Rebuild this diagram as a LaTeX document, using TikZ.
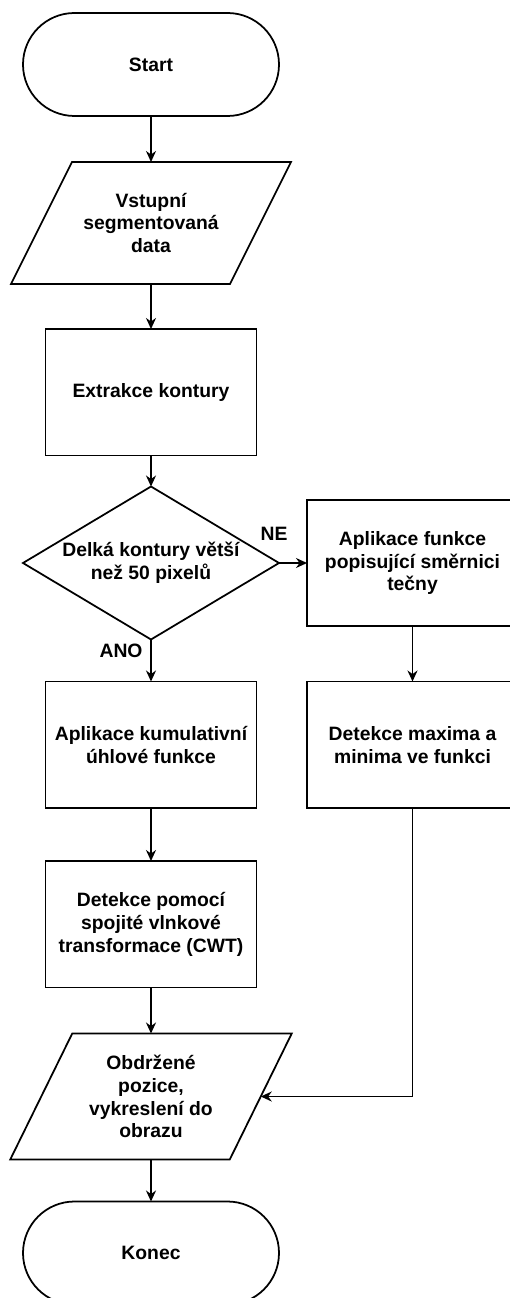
\documentclass[tikz,border=0pt]{standalone}
\usepackage{fontspec}
\setmainfont{Liberation Sans}
\usetikzlibrary{positioning}
\usetikzlibrary{shapes.geometric,calc,arrows.meta}

\begin{document}
\begin{tikzpicture}[every node/.style={outer sep=0pt},line width=1pt,
		box/.style={draw,line width=1pt,align=center,font=\fontsize{11}{13}\selectfont\bfseries,inner sep=0pt},
		term/.style={box,rounded corners=1.03cm,minimum width=5.12cm,minimum height=2.06cm},
		proc/.style={box,minimum width=4.22cm,minimum height=2.53cm},
		io/.style={box,draw=none,minimum width=4.38cm,minimum height=2.44cm},
		dec/.style={box,diamond,aspect=1.67,minimum width=5.12cm,minimum height=3.06cm},
		lbl/.style={font=\fontsize{11}{13}\selectfont\bfseries,inner sep=0pt},
		arr/.style={-{Stealth[length=2.2mm,width=2mm]}},
		]
		\useasboundingbox (0,0) rectangle (10.2,-25.96);

		\node[term] (start) at (3.02,-1.29) {Start};
		\node[io,below=0.92cm of start] (in) {Vstupní\\segmentovaná\\data};
		\draw ($(in.north west)+(0.61,0)$) -- ($(in.north east)+(0.61,0)$)
			-- ($(in.south east)-(0.61,0)$) -- ($(in.south west)-(0.61,0)$) -- cycle;
		\node[proc,below=0.9cm of in] (extr) {Extrakce kontury};
		\node[dec,below=0.62cm of extr] (dia) {Delká kontury větší\\než 50 pixelů};
		\node[proc,right=0.56cm of dia] (tan) {Aplikace funkce\\popisující směrnici\\tečny};
		\node[proc,below=0.84cm of dia] (cum) {Aplikace kumulativní\\úhlové funkce};
		\node[proc] (ext) at (tan |- cum) {Detekce maxima a\\minima ve funkci};
		\node[proc,below=1.06cm of cum] (cwt) {Detekce pomocí\\spojité vlnkové\\transformace (CWT)};
		\node[io,below=0.92cm of cwt,minimum height=2.52cm,minimum width=4.39cm] (out) {Obdržené\\pozice,\\vykreslení do\\obrazu};
		\draw ($(out.north west)+(0.62,0)$) -- ($(out.north east)+(0.62,0)$)
			-- ($(out.south east)-(0.62,0)$) -- ($(out.south west)-(0.62,0)$) -- cycle;
		\node[term,below=0.84cm of out] (end) {Konec};

		\node[lbl,above=0.46cm of dia.east,xshift=-0.1cm] (ne) {NE};
		\node[lbl,below left=0.08cm and 0.17cm of dia.south] (ano) {ANO};

		\draw[arr] (start) -- (in);
		\draw[arr] (in) -- (extr);
		\draw[arr] (extr) -- (dia);
		\draw[arr] (dia) -- (tan);
		\draw[arr] (dia) -- (cum);
		\draw[arr] (tan) -- (ext);
		\draw[arr] (cum) -- (cwt);
		\draw[arr] (cwt) -- (out);
		\draw[arr] (ext.south) |- (out.east);
		\draw[arr] (out) -- (end);
\end{tikzpicture}
\end{document}
